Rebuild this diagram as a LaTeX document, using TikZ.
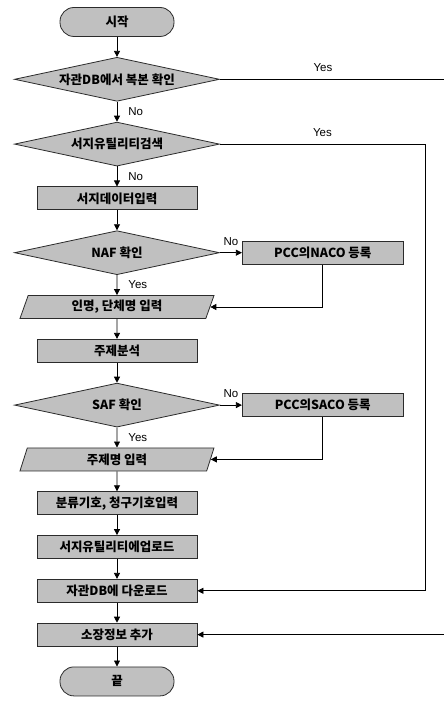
\documentclass[tikz,border=0pt]{standalone}
\usepackage{fontspec}
\setmainfont{Liberation Sans}
\newfontfamily\kr{Noto Sans CJK KR}
\usepackage{tikz}
\usetikzlibrary{arrows.meta,positioning,shapes.geometric}
\definecolor{boxgrey}{HTML}{C0C0C0}
\definecolor{rimline}{HTML}{2B2B2B}

\begin{document}
\begin{tikzpicture}[
  x=1pt,y=1pt,
  node distance=20pt,
  every node/.style={font=\kr\bfseries\fontsize{12.5}{14}\selectfont,inner sep=1pt},
  base/.style={draw=rimline,fill=boxgrey,line width=.8pt},
  proc/.style={base,minimum width=160pt,minimum height=23pt},
  term/.style={base,rounded corners=14pt,minimum width=114pt,minimum height=29pt},
  test/.style={base,diamond,aspect=4.6,minimum width=205pt,minimum height=44pt},
  io/.style={base,trapezium,trapezium left angle=62,trapezium right angle=118,trapezium stretches body,minimum width=194pt,minimum height=23pt},
  lbl/.style={font=\fontsize{11.5}{13}\selectfont,inner sep=1pt},
  arr/.style={-{Triangle[length=6pt,width=6pt]},draw=black,line width=.8pt}
]
\useasboundingbox (0,0) rectangle (444,702);
\node[term] (start) at (117,680) {시작};
\node[test,below=of start] (owndb) {자관DB에서 복본 확인};
\node[test,below=of owndb] (util) {서지유틸리티검색};
\node[proc,below=of util] (entry) {서지데이터입력};
\node[test,below=of entry] (naf) {NAF 확인};
\node[io,below=of naf] (names) {인명, 단체명 입력};
\node[proc,below=of names] (subj) {주제분석};
\node[test,below=of subj] (saf) {SAF 확인};
\node[io,below=of saf] (heads) {주제명 입력};
\node[proc,below=of heads] (class) {분류기호, 청구기호입력};
\node[proc,below=of class] (upload) {서지유틸리티에업로드};
\node[proc,below=of upload] (down) {자관DB에 다운로드};
\node[proc,below=of down] (hold) {소장정보 추가};
\node[term,below=of hold] (stop) {끝};
\node[proc,minimum width=161pt,right=22pt of naf] (naco) {PCC의NACO 등록};
\node[proc,minimum width=161pt,right=22pt of saf] (saco) {PCC의SACO 등록};
\coordinate (rim) at (444,0);
\draw[arr] (start)--(owndb);
\draw[arr] (owndb)--node[lbl,right=10pt]{No}(util);
\draw[arr] (util)--node[lbl,right=10pt]{No}(entry);
\draw[arr] (entry)--(naf);
\draw[arr] (naf)--node[lbl,right=10pt]{Yes}(names);
\draw[arr] (names)--(subj); \draw[arr] (subj)--(saf);
\draw[arr] (saf)--node[lbl,right=10pt]{Yes}(heads);
\draw[arr] (heads)--(class); \draw[arr] (class)--(upload);
\draw[arr] (upload)--(down); \draw[arr] (down)--(hold); \draw[arr] (hold)--(stop);
\draw[arr] (naf)--node[lbl,above=6pt]{No}(naco);
\draw[arr] (saf)--node[lbl,above=6pt]{No}(saco);
\draw[arr] (naco.south) |- (names.east);
\draw[arr] (saco.south) |- (heads.east);
\draw[line width=.8pt] (owndb.east)--node[lbl,above=6pt,pos=.46]{Yes}(owndb.east -| rim);
\draw[arr] (util.east)--node[lbl,above=6pt]{Yes} ++(205,0) |- (down.east);
\draw[arr] (hold.east -| rim)--(hold.east);
\end{tikzpicture}
\end{document}
